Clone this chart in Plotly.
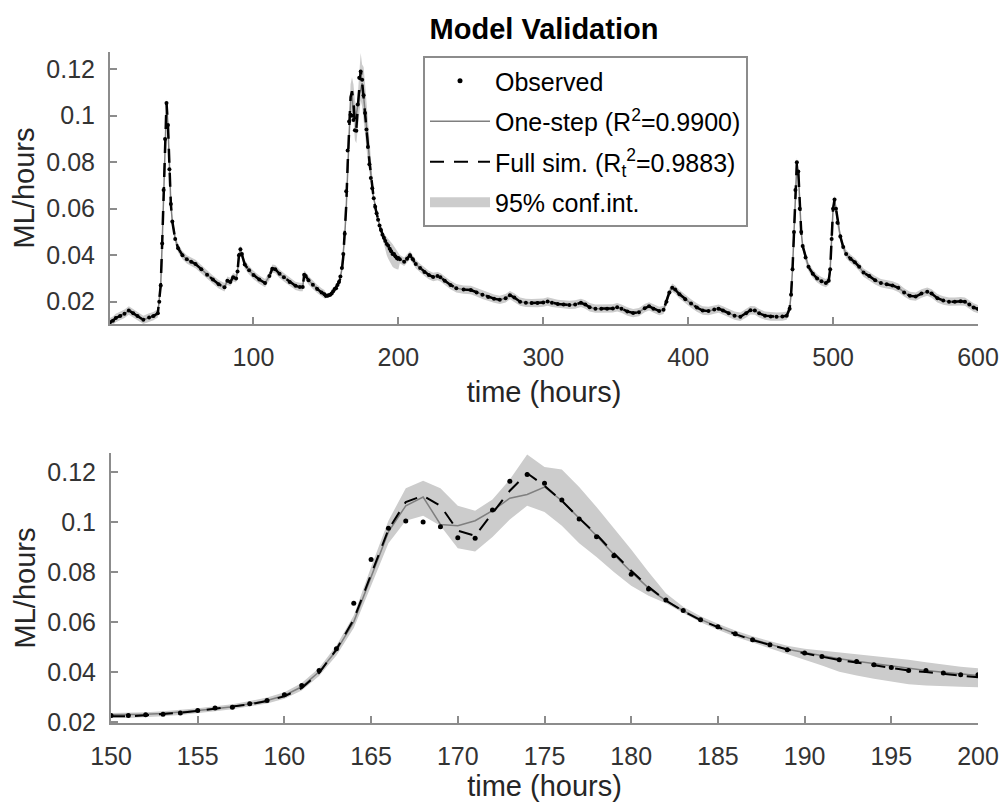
import plotly.graph_objects as go

# ---------------- data ----------------
# Top panel readings outside the 150-200 h window (hours, ML/hours)
t_top_a = [1, 3, 5, 8, 11, 14, 17, 20, 24, 28, 31, 34, 35, 36, 37, 38, 39, 40, 41, 42,
           43, 44, 46, 48, 51, 54, 57, 60, 64, 68, 72, 76, 80, 82, 84, 86, 88, 89, 90, 91,
           92, 94, 97, 100, 104, 108, 111, 113, 115, 118, 121, 125, 129, 132, 134, 135, 136,
           138, 141, 144, 147, 149]
obs_top_a = [0.0112, 0.0118, 0.0130, 0.0138, 0.0148, 0.0162, 0.0150, 0.0138, 0.0122, 0.0132,
             0.0138, 0.0150, 0.0200, 0.0270, 0.0450, 0.0680, 0.0900, 0.1055, 0.0960, 0.0770,
             0.0620, 0.0545, 0.0470, 0.0430, 0.0400, 0.0382, 0.0372, 0.0362, 0.0340, 0.0316,
             0.0295, 0.0275, 0.0262, 0.0290, 0.0285, 0.0305, 0.0300, 0.0330, 0.0400, 0.0425,
             0.0405, 0.0360, 0.0335, 0.0315, 0.0295, 0.0280, 0.0310, 0.0342, 0.0340, 0.0320,
             0.0305, 0.0285, 0.0268, 0.0263, 0.0263, 0.0316, 0.0310, 0.0292, 0.0273, 0.0255,
             0.0240, 0.0232]

t_top_b = [201, 204, 206, 208, 210, 212, 215, 218, 221, 224, 227, 229, 232, 236, 240, 245,
           250, 254, 258, 262, 266, 270, 274, 277, 280, 284, 288, 292, 296, 300, 303, 306,
           310, 314, 318, 322, 326, 329, 332, 336, 340, 344, 348, 351, 354, 358, 362, 366,
           370, 373, 376, 380, 383, 385, 387, 389, 391, 394, 398, 402, 406, 410, 414, 418,
           421, 424, 428, 432, 436, 440, 443, 446, 449, 453, 457, 461, 465, 468, 470, 471,
           472, 473, 474, 475, 476, 477, 478, 479, 481, 483, 486, 489, 492, 495, 497, 498,
           499, 500, 501, 502, 503, 505, 507, 509, 512, 515, 518, 521, 525, 529, 533, 537,
           541, 545, 549, 553, 557, 561, 565, 568, 572, 576, 580, 584, 588, 591, 594, 597, 600]
obs_top_b = [0.0383, 0.0372, 0.0385, 0.0400, 0.0382, 0.0362, 0.0345, 0.0328, 0.0315, 0.0306,
             0.0310, 0.0305, 0.0290, 0.0272, 0.0258, 0.0252, 0.0250, 0.0240, 0.0230, 0.0220,
             0.0213, 0.0208, 0.0215, 0.0228, 0.0218, 0.0200, 0.0195, 0.0194, 0.0194, 0.0196,
             0.0201, 0.0195, 0.0190, 0.0188, 0.0186, 0.0188, 0.0195, 0.0188, 0.0176, 0.0170,
             0.0170, 0.0170, 0.0171, 0.0176, 0.0170, 0.0158, 0.0151, 0.0155, 0.0172, 0.0180,
             0.0170, 0.0160, 0.0165, 0.0200, 0.0240, 0.0260, 0.0252, 0.0232, 0.0210, 0.0192,
             0.0175, 0.0162, 0.0160, 0.0166, 0.0170, 0.0162, 0.0150, 0.0140, 0.0135, 0.0150,
             0.0163, 0.0162, 0.0150, 0.0140, 0.0136, 0.0135, 0.0136, 0.0140, 0.0170, 0.0230,
             0.0340, 0.0500, 0.0680, 0.0800, 0.0760, 0.0600, 0.0500, 0.0440, 0.0390, 0.0350,
             0.0320, 0.0300, 0.0288, 0.0280, 0.0290, 0.0340, 0.0470, 0.0600, 0.0640, 0.0600,
             0.0540, 0.0480, 0.0435, 0.0405, 0.0385, 0.0370, 0.0350, 0.0325, 0.0310, 0.0292,
             0.0280, 0.0275, 0.0270, 0.0260, 0.0240, 0.0225, 0.0222, 0.0235, 0.0243, 0.0235,
             0.0215, 0.0205, 0.0200, 0.0200, 0.0202, 0.0200, 0.0188, 0.0175, 0.0168]

# Detail window 150-200 h (hourly)
t_zoom = list(range(150, 201))
obs_zoom = [0.0225, 0.0225, 0.0228, 0.0230, 0.0235, 0.0245, 0.0255, 0.0258, 0.0272, 0.0285,
            0.0308, 0.0345, 0.0405, 0.0492, 0.0675, 0.0850, 0.0975, 0.1004, 0.1000, 0.0981,
            0.0937, 0.0935, 0.1048, 0.1163, 0.1190, 0.1155, 0.1088, 0.1012, 0.0941, 0.0865,
            0.0791, 0.0732, 0.0688, 0.0645, 0.0608, 0.0580, 0.0552, 0.0528, 0.0508, 0.0488,
            0.0475, 0.0461, 0.0448, 0.0441, 0.0428, 0.0417, 0.0405, 0.0405, 0.0395, 0.0388,
            0.0388]
onestep_zoom = [0.0228, 0.0228, 0.0230, 0.0233, 0.0238, 0.0245, 0.0252, 0.0260, 0.0272, 0.0285,
                0.0305, 0.0340, 0.0400, 0.0485, 0.0600, 0.0780, 0.0960, 0.1065, 0.1100, 0.0990,
                0.0985, 0.1005, 0.1045, 0.1095, 0.1110, 0.1140, 0.1085, 0.1015, 0.0945, 0.0870,
                0.0800, 0.0735, 0.0685, 0.0645, 0.0610, 0.0580, 0.0553, 0.0530, 0.0510, 0.0490,
                0.0477, 0.0463, 0.0452, 0.0442, 0.0432, 0.0422, 0.0412, 0.0405, 0.0398, 0.0392,
                0.0385]
fullsim_zoom = [0.0222, 0.0222, 0.0226, 0.0230, 0.0236, 0.0243, 0.0252, 0.0260, 0.0270, 0.0283,
                0.0302, 0.0335, 0.0395, 0.0490, 0.0610, 0.0790, 0.0970, 0.1080, 0.1105, 0.1065,
                0.0965, 0.0945, 0.1035, 0.1125, 0.1195, 0.1145, 0.1085, 0.1015, 0.0950, 0.0875,
                0.0805, 0.0740, 0.0685, 0.0643, 0.0607, 0.0578, 0.0551, 0.0527, 0.0507, 0.0489,
                0.0474, 0.0460, 0.0447, 0.0437, 0.0427, 0.0416, 0.0405, 0.0399, 0.0391, 0.0384,
                0.0378]
ci_lo_zoom = [0.0215, 0.0215, 0.0218, 0.0222, 0.0227, 0.0234, 0.0242, 0.0250, 0.0261, 0.0273,
              0.0292, 0.0325, 0.0383, 0.0465, 0.0575, 0.0745, 0.0915, 0.1005, 0.1025, 0.0985,
              0.0895, 0.0882, 0.0940, 0.1010, 0.1065, 0.1040, 0.0985, 0.0915, 0.0860, 0.0800,
              0.0745, 0.0705, 0.0675, 0.0635, 0.0598, 0.0568, 0.0540, 0.0516, 0.0494, 0.0472,
              0.0448, 0.0425, 0.0400, 0.0385, 0.0372, 0.0360, 0.0350, 0.0345, 0.0342, 0.0340,
              0.0338]
ci_hi_zoom = [0.0235, 0.0235, 0.0238, 0.0242, 0.0247, 0.0254, 0.0262, 0.0270, 0.0283, 0.0297,
              0.0318, 0.0355, 0.0415, 0.0505, 0.0625, 0.0820, 0.1005, 0.1135, 0.1165, 0.1135,
              0.1065, 0.1045, 0.1090, 0.1170, 0.1270, 0.1220, 0.1210, 0.1140, 0.1060, 0.0975,
              0.0890, 0.0800, 0.0715, 0.0660, 0.0622, 0.0592, 0.0565, 0.0542, 0.0522, 0.0504,
              0.0492, 0.0485, 0.0478, 0.0472, 0.0465, 0.0458, 0.0448, 0.0438, 0.0428, 0.0420,
              0.0414]
CI_HALF_TOP = 0.0018  # read band half-width in the overview panel

x_ticks_top = [100, 200, 300, 400, 500, 600]
x_ticks_bot = list(range(150, 201, 5))
y_ticks = [0.02, 0.04, 0.06, 0.08, 0.1, 0.12]
y_ticklabels = ["0.02", "0.04", "0.06", "0.08", "0.1", "0.12"]

# ---------------- assemble ----------------
t_top = t_top_a + t_zoom + t_top_b
obs_top = obs_top_a + obs_zoom + obs_top_b
onestep_top = obs_top_a + onestep_zoom + obs_top_b
fullsim_top = obs_top_a + fullsim_zoom + obs_top_b
lo_top = [v - CI_HALF_TOP for v in obs_top_a] + ci_lo_zoom + [v - CI_HALF_TOP for v in obs_top_b]
hi_top = [v + CI_HALF_TOP for v in obs_top_a] + ci_hi_zoom + [v + CI_HALF_TOP for v in obs_top_b]

BAND = "#cccccc"
GREY_LINE = "#7f7f7f"
AX = "#8c8c8c"
FONT = "Liberation Sans, Arial, Helvetica, sans-serif"

fig = go.Figure()

def add_panel(t, obs, one, full, lo, hi, xa, ya, legend, msize, fullw):
    fig.add_trace(go.Scatter(x=t + t[::-1], y=hi + lo[::-1], fill="toself", fillcolor=BAND,
                             line=dict(width=0, color=BAND), mode="lines", hoverinfo="skip",
                             name="95% conf.int.", showlegend=False, legendgroup="g4",
                             legendrank=4, xaxis=xa, yaxis=ya))
    fig.add_trace(go.Scatter(x=t, y=one, mode="lines", line=dict(color=GREY_LINE, width=1.5),
                             name="One-step (R<sup>2</sup>=0.9900)", showlegend=legend,
                             legendrank=2, legendgroup="g2", xaxis=xa, yaxis=ya))
    fig.add_trace(go.Scatter(x=t, y=full, mode="lines",
                             line=dict(color="black", width=fullw, dash="14px,10px"),
                             name="Full sim. (R<sub>t</sub><sup>2</sup>=0.9883)", showlegend=legend,
                             legendrank=3, legendgroup="g3", xaxis=xa, yaxis=ya))
    fig.add_trace(go.Scatter(x=t, y=obs, mode="markers", marker=dict(color="black", size=msize),
                             name="Observed", showlegend=legend, legendrank=1, legendgroup="g1",
                             xaxis=xa, yaxis=ya))

add_panel(t_top, obs_top, onestep_top, fullsim_top, lo_top, hi_top, "x", "y", False, 4, 2.5)
add_panel(t_zoom, obs_zoom, onestep_zoom, fullsim_zoom, ci_lo_zoom, ci_hi_zoom, "x2", "y2", True, 5, 2)

# legend key for the confidence band (patch-like swatch)
fig.add_trace(go.Scatter(x=[None], y=[None], mode="lines", line=dict(color=BAND, width=24),
                         name="95% conf.int.", showlegend=True, legendrank=4, legendgroup="g4",
                         xaxis="x2", yaxis="y2", hoverinfo="skip"))

axis_common = dict(showline=True, linecolor=AX, linewidth=2, ticks="inside", ticklen=7,
                   tickwidth=1.5, tickcolor=AX, showgrid=False, zeroline=False, mirror=False,
                   automargin=False,
                   tickfont=dict(size=25, color="#333333", family=FONT))
xtitle_top = dict(text="time (hours)", font=dict(size=29, color="#262626"), standoff=12)
xtitle_bot = dict(text="time (hours)", font=dict(size=29, color="#262626"), standoff=4)
ytitle = dict(text="ML/hours", font=dict(size=29, color="#262626"), standoff=3)

fig.update_layout(
    width=1000, height=810, margin=dict(l=0, r=0, t=0, b=0, autoexpand=False),
    paper_bgcolor="white", plot_bgcolor="white",
    font=dict(family=FONT, size=24, color="#262626"),
    title=dict(text="<b>Model Validation</b>", x=0.544, xanchor="center", y=0.965,
               yanchor="middle", font=dict(size=29, color="black", family=FONT)),
    xaxis=dict(domain=[0.110, 0.978], range=[1, 600], tickvals=x_ticks_top, anchor="y",
               ticklabelstandoff=10, title=xtitle_top, **axis_common),
    yaxis=dict(domain=[0.600, 0.9358], range=[0.0104, 0.1274], tickvals=y_ticks,
               ticktext=y_ticklabels, anchor="x", ticklabelstandoff=8,
               title=ytitle, **axis_common),
    xaxis2=dict(domain=[0.111, 0.978], range=[150, 200], tickvals=x_ticks_bot, anchor="y2",
                ticklabelstandoff=10, title=xtitle_bot, **axis_common),
    yaxis2=dict(domain=[0.1074, 0.4407], range=[0.0195, 0.1276], tickvals=y_ticks,
                ticktext=y_ticklabels, anchor="x2", ticklabelstandoff=8,
                title=ytitle, **axis_common),
    legend=dict(x=0.423, y=1 - 56 / 810, xanchor="left", yanchor="top", bgcolor="white",
                bordercolor=AX, borderwidth=2, font=dict(size=25, color="black", family=FONT),
                itemwidth=60, tracegroupgap=5, traceorder="grouped"),
    showlegend=True,
)

fig.write_html("out.html")
